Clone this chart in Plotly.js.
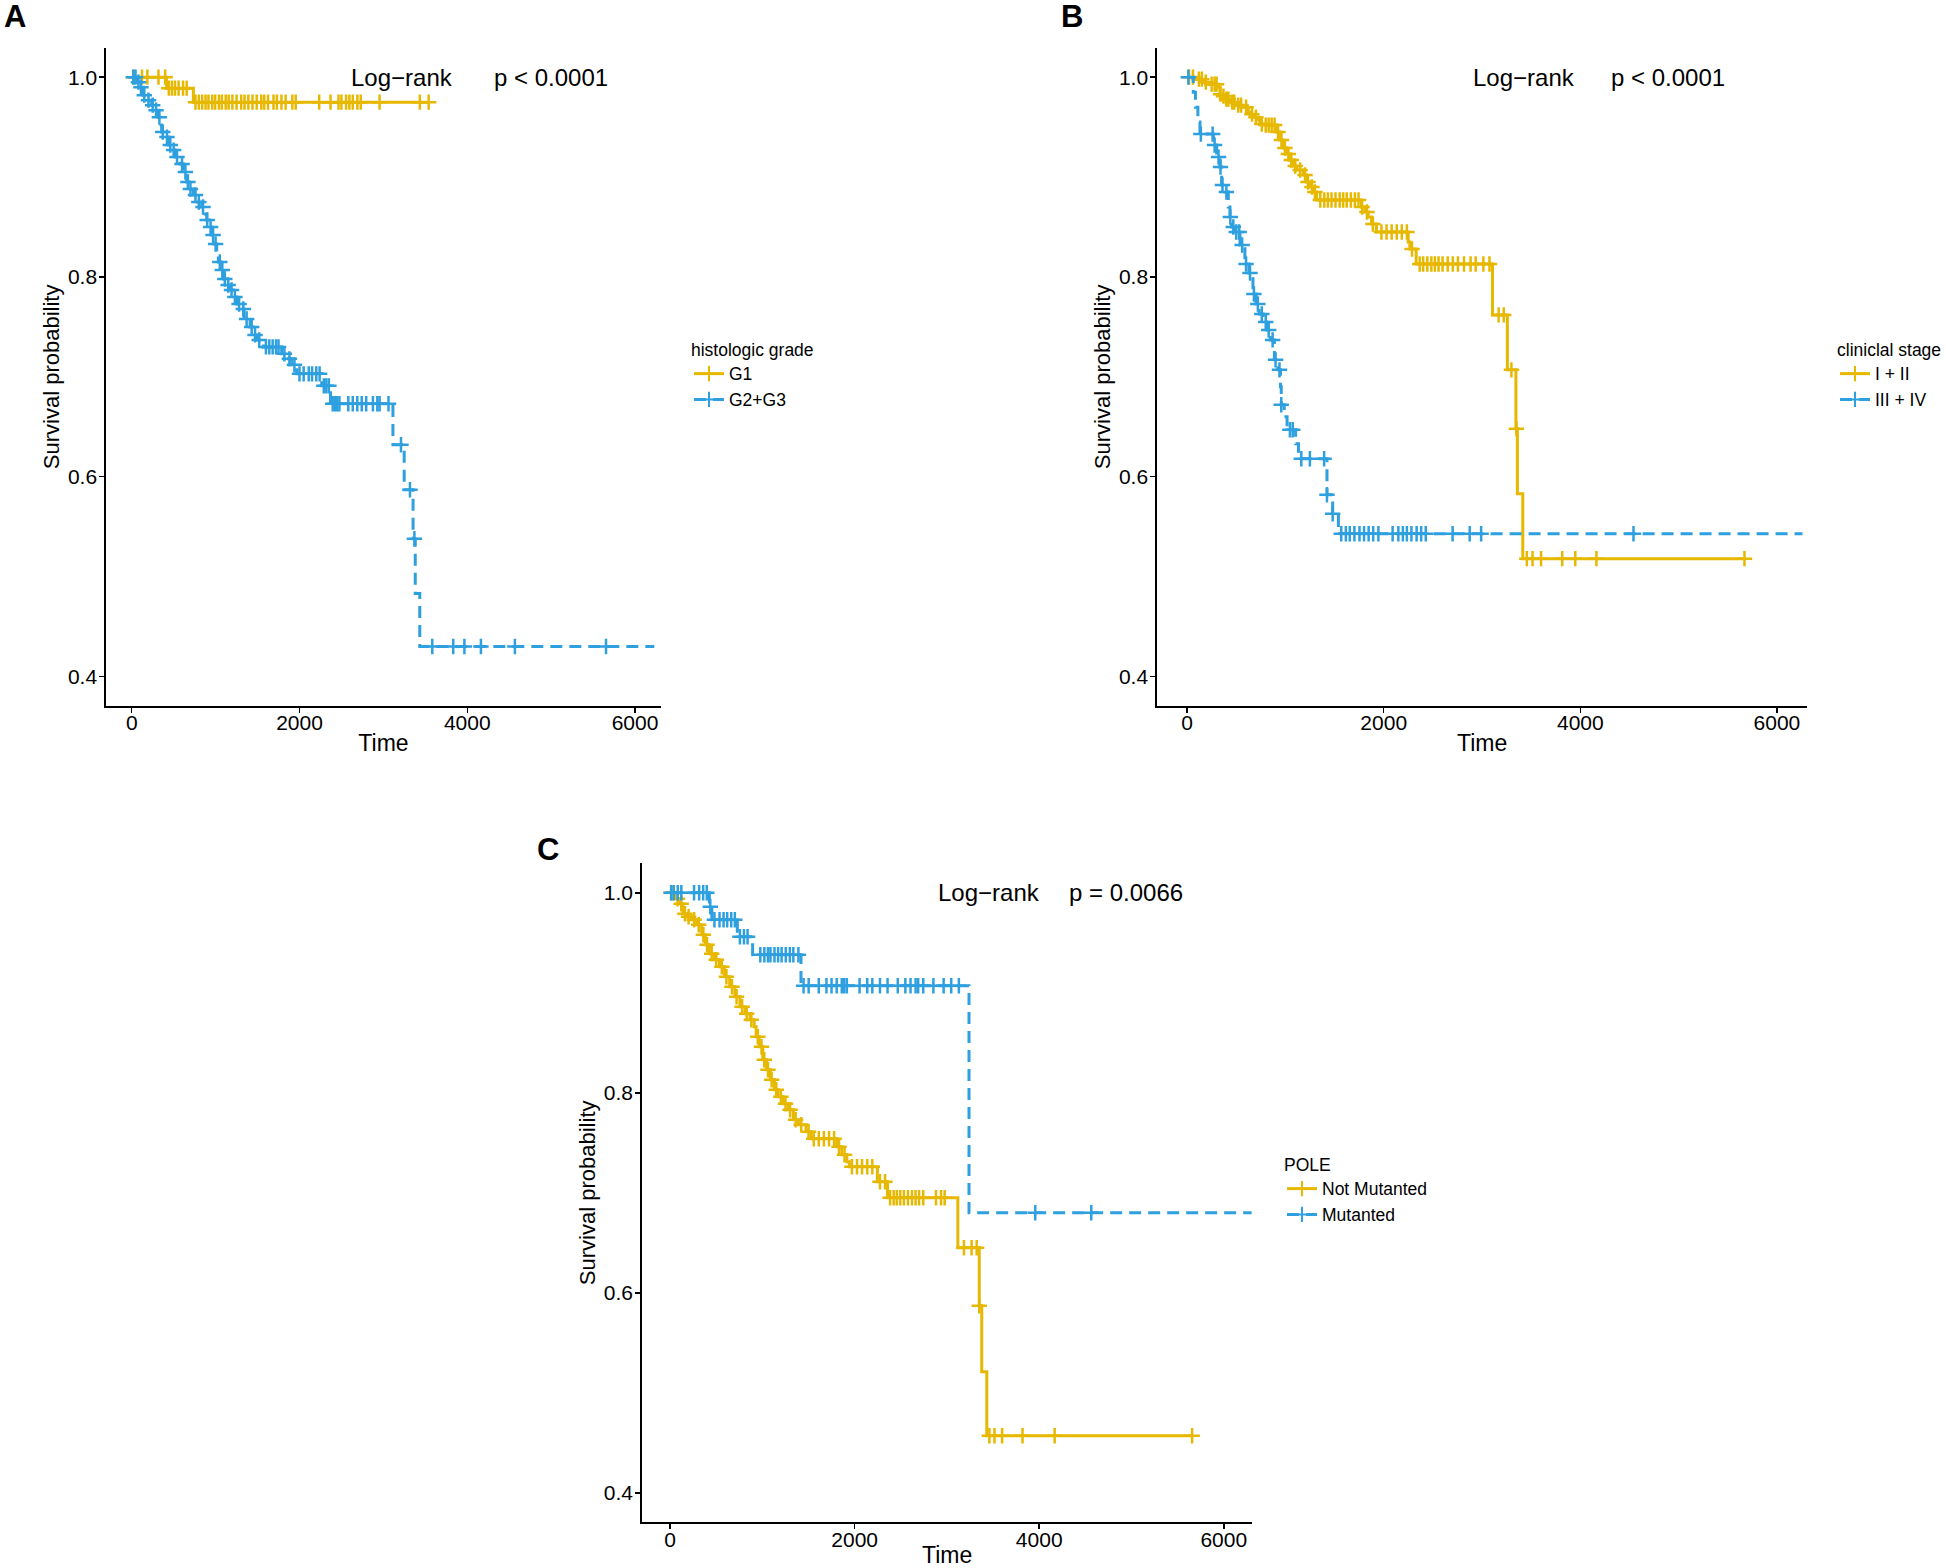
<!DOCTYPE html>
<html>
<head>
<meta charset="utf-8">
<script src="https://cdn.plot.ly/plotly-3.0.1.min.js"></script>
<style>
html, body { margin: 0; padding: 0; background: #ffffff; }
#chart { width: 1946px; height: 1568px; }
</style>
</head>
<body>
<div id="chart"></div>
<script>
// ---------------- Panel A : histologic grade ----------------
const gradeLegendTitle = "histologic grade";
const gradeLabels = ["G1", "G2+G3"];
const gradeG1Times = [0, 415, 735];
const gradeG1Surv = [1.0, 0.989, 0.975];
const gradeG1End = 3540;
const gradeG1Censor = [20, 122, 186, 319, 399, 442, 479, 516, 559, 612, 655, 760, 800, 840, 880, 915, 960, 995, 1040, 1075, 1120, 1155, 1200, 1250, 1305, 1345, 1390, 1440, 1490, 1545, 1580, 1625, 1690, 1730, 1785, 1835, 1915, 1955, 2235, 2370, 2465, 2500, 2555, 2595, 2635, 2690, 2730, 2955, 3435, 3540];

const gradeG23Times = [0, 59, 99, 139, 179, 238, 278, 318, 349, 357, 397, 437, 477, 516, 576, 616, 656, 687, 735, 783, 834, 874, 894, 926, 954, 981, 1013, 1033, 1061, 1093, 1125, 1172, 1212, 1252, 1311, 1339, 1411, 1450, 1490, 1570, 1788, 1848, 1908, 1967, 2265, 2370, 3114, 3248, 3354, 3380, 3434];
const gradeG23Surv = [1.0, 0.995, 0.990, 0.982, 0.977, 0.972, 0.967, 0.960, 0.952, 0.945, 0.940, 0.932, 0.927, 0.920, 0.913, 0.905, 0.895, 0.888, 0.882, 0.875, 0.870, 0.863, 0.857, 0.850, 0.842, 0.833, 0.823, 0.815, 0.807, 0.798, 0.792, 0.787, 0.780, 0.773, 0.768, 0.758, 0.750, 0.742, 0.737, 0.730, 0.723, 0.718, 0.712, 0.703, 0.691, 0.673, 0.632, 0.587, 0.538, 0.483, 0.430];
const gradeG23End = 6230;
const gradeG23Censor = [20, 45, 80, 110, 150, 200, 250, 290, 330, 370, 420, 460, 500, 540, 600, 640, 670, 700, 760, 800, 850, 900, 940, 970, 1000, 1050, 1080, 1110, 1150, 1190, 1230, 1280, 1330, 1370, 1430, 1470, 1520, 1600, 1640, 1680, 1720, 1750, 1820, 1880, 1940, 2000, 2050, 2110, 2150, 2200, 2240, 2290, 2320, 2350, 2396, 2422, 2449, 2476, 2582, 2635, 2689, 2742, 2795, 2875, 2928, 2955, 3061, 3210, 3317, 3370, 3583, 3833, 3966, 4163, 4568, 5654];
const gradePText = ["Log\u2212rank", "p < 0.0001"];

// ---------------- Panel B : clinical stage ----------------
const stageLegendTitle = "cliniclal stage";
const stageLabels = ["I + II", "III + IV"];
const stageEarlyTimes = [0, 97, 165, 216, 318, 334, 351, 385, 436, 504, 572, 622, 639, 690, 724, 741, 792, 910, 944, 978, 1012, 1046, 1080, 1114, 1182, 1215, 1249, 1283, 1317, 1774, 1808, 1842, 1876, 1927, 2249, 2266, 2330, 3107, 3258, 3345, 3360, 3415];
const stageEarlySurv = [1.0, 0.998, 0.995, 0.993, 0.990, 0.983, 0.981, 0.978, 0.975, 0.972, 0.970, 0.965, 0.963, 0.960, 0.957, 0.953, 0.952, 0.945, 0.937, 0.929, 0.923, 0.917, 0.911, 0.907, 0.902, 0.895, 0.890, 0.885, 0.877, 0.870, 0.865, 0.860, 0.853, 0.845, 0.835, 0.828, 0.813, 0.762, 0.707, 0.648, 0.583, 0.518];
const stageEarlyEnd = 5670;
const stageEarlyCensor = [20, 60, 120, 150, 190, 250, 280, 300, 340, 370, 400, 420, 460, 480, 520, 550, 600, 660, 700, 760, 800, 830, 860, 890, 925, 960, 995, 1030, 1060, 1100, 1150, 1200, 1230, 1270, 1300, 1355, 1396, 1432, 1469, 1510, 1552, 1588, 1624, 1666, 1707, 1744, 1780, 1830, 1890, 1977, 2029, 2081, 2133, 2184, 2236, 2288, 2366, 2402, 2444, 2485, 2521, 2558, 2599, 2651, 2703, 2755, 2817, 2884, 2936, 3014, 3076, 3169, 3221, 3299, 3350, 3456, 3514, 3601, 3816, 3949, 4164, 5670];

const stageLateTimes = [0, 63, 85, 110, 131, 267, 301, 334, 351, 385, 419, 436, 453, 487, 538, 588, 629, 670, 702, 733, 774, 810, 847, 888, 924, 950, 958, 988, 1017, 1104, 1133, 1423, 1481, 1539];
const stageLateSurv = [1.0, 0.985, 0.970, 0.955, 0.943, 0.932, 0.920, 0.910, 0.892, 0.885, 0.870, 0.860, 0.850, 0.845, 0.832, 0.813, 0.804, 0.783, 0.773, 0.763, 0.755, 0.747, 0.737, 0.717, 0.707, 0.690, 0.672, 0.660, 0.647, 0.633, 0.618, 0.582, 0.563, 0.543];
const stageLateEnd = 6260;
const stageLateCensor = [13, 140, 260, 280, 320, 340, 360, 400, 440, 470, 500, 530, 560, 600, 640, 680, 720, 760, 800, 830, 870, 900, 940, 958, 1046, 1075, 1162, 1249, 1394, 1423, 1481, 1568, 1615, 1655, 1702, 1754, 1800, 1847, 1893, 1946, 2091, 2149, 2195, 2236, 2282, 2335, 2381, 2428, 2701, 2875, 2991, 4541];
const stagePText = ["Log\u2212rank", "p < 0.0001"];

// ---------------- Panel C : POLE ----------------
const poleLegendTitle = "POLE";
const poleLabels = ["Not Mutanted", "Mutanted"];
const poleWtTimes = [0, 66, 105, 138, 176, 232, 287, 342, 381, 425, 480, 535, 590, 645, 701, 756, 811, 866, 910, 932, 966, 1004, 1043, 1087, 1131, 1170, 1225, 1280, 1335, 1390, 1473, 1528, 1805, 1860, 1915, 1942, 2246, 2356, 3118, 3350, 3377, 3432];
const poleWtSurv = [1.0, 0.994, 0.989, 0.979, 0.976, 0.973, 0.968, 0.958, 0.948, 0.939, 0.933, 0.926, 0.916, 0.906, 0.896, 0.886, 0.879, 0.873, 0.866, 0.856, 0.846, 0.833, 0.823, 0.813, 0.803, 0.796, 0.789, 0.783, 0.773, 0.768, 0.761, 0.754, 0.746, 0.738, 0.731, 0.726, 0.711, 0.695, 0.645, 0.587, 0.521, 0.457];
const poleWtEnd = 5657;
const poleWtCensor = [11, 40, 80, 120, 160, 200, 260, 310, 360, 400, 450, 500, 560, 610, 670, 720, 780, 830, 880, 950, 990, 1020, 1060, 1100, 1150, 1200, 1250, 1300, 1360, 1420, 1500, 1556, 1611, 1666, 1722, 1777, 1830, 1890, 1970, 2025, 2080, 2136, 2191, 2274, 2329, 2384, 2423, 2456, 2494, 2533, 2577, 2621, 2660, 2698, 2743, 2881, 2936, 2975, 3184, 3267, 3322, 3350, 3460, 3515, 3598, 3819, 4167, 5657];

const poleMutTimes = [0, 425, 452, 728, 894, 1418, 3239];
const poleMutSurv = [1.0, 0.986, 0.973, 0.956, 0.938, 0.907, 0.680];
const poleMutEnd = 6302;
const poleMutCensor = [11, 38, 82, 121, 259, 314, 358, 397, 435, 480, 535, 579, 618, 662, 701, 756, 800, 839, 977, 1021, 1060, 1087, 1131, 1170, 1208, 1253, 1297, 1335, 1390, 1446, 1501, 1611, 1694, 1749, 1805, 1860, 1887, 1915, 2053, 2136, 2191, 2274, 2356, 2467, 2549, 2605, 2660, 2688, 2743, 2853, 2964, 3046, 3129, 3957, 4564];
const polePText = ["Log\u2212rank", "p = 0.0066"];

// ---------------- shared ----------------
const panelLetters = ["A", "B", "C"];
const xTickVals = [0, 2000, 4000, 6000];
const yTickVals = [0.4, 0.6, 0.8, 1.0];
const xTitle = "Time";
const yTitle = "Survival probability";
const pTextX = [[3224, 5001], [3424, 4887], [3458, 4935]];
const pTextY = 1.0;

const GOLD = "#E7B800";
const BLUE = "#2E9FDF";
const FONT = "Liberation Sans, Arial, Helvetica, sans-serif";

function survAt(times, surv, t) {
  let v = surv[0];
  for (let i = 0; i < times.length; i++) { if (times[i] <= t) v = surv[i]; }
  return v;
}

function curveTraces(times, surv, end, censor, color, dash, xa, ya, name, legendId) {
  const line = {
    type: "scatter", mode: "lines",
    x: times.concat([end]),
    y: surv.concat([surv[surv.length - 1]]),
    xaxis: xa, yaxis: ya,
    line: { color: color, width: 3, dash: dash, shape: "hv" },
    showlegend: false, hoverinfo: "skip"
  };
  const marks = {
    type: "scatter", mode: "markers",
    x: censor,
    y: censor.map(t => survAt(times, surv, t)),
    xaxis: xa, yaxis: ya,
    marker: { symbol: "cross-thin-open", size: 11, color: color, line: { color: color, width: 2.5 } },
    showlegend: false, hoverinfo: "skip"
  };
  const leg = {
    type: "scatter", mode: "lines+markers",
    x: [null], y: [null],
    xaxis: xa, yaxis: ya,
    name: name,
    legend: legendId,
    line: { color: color, width: 3, dash: dash },
    marker: { symbol: "cross-thin-open", size: 11, color: color, line: { color: color, width: 2 } },
    showlegend: true, hoverinfo: "skip"
  };
  return [line, marks, leg];
}

const DASH = "12px,7px";
let traces = [];
traces = traces.concat(curveTraces(gradeG1Times, gradeG1Surv, gradeG1End, gradeG1Censor, GOLD, "solid", "x", "y", gradeLabels[0], "legend"));
traces = traces.concat(curveTraces(gradeG23Times, gradeG23Surv, gradeG23End, gradeG23Censor, BLUE, DASH, "x", "y", gradeLabels[1], "legend"));
traces = traces.concat(curveTraces(stageEarlyTimes, stageEarlySurv, stageEarlyEnd, stageEarlyCensor, GOLD, "solid", "x2", "y2", stageLabels[0], "legend2"));
traces = traces.concat(curveTraces(stageLateTimes, stageLateSurv, stageLateEnd, stageLateCensor, BLUE, DASH, "x2", "y2", stageLabels[1], "legend2"));
traces = traces.concat(curveTraces(poleWtTimes, poleWtSurv, poleWtEnd, poleWtCensor, GOLD, "solid", "x3", "y3", poleLabels[0], "legend3"));
traces = traces.concat(curveTraces(poleMutTimes, poleMutSurv, poleMutEnd, poleMutCensor, BLUE, DASH, "x3", "y3", poleLabels[1], "legend3"));

const W = 1946, H = 1568;
function px(x) { return x / W; }
function py(y) { return 1 - y / H; }

function xAxis(d0, d1, anchor) {
  return {
    domain: [px(d0), px(d1)], anchor: anchor,
    range: [-303, 6306], tickvals: xTickVals, ticktext: xTickVals.map(String),
    showline: true, linecolor: "#000", linewidth: 2,
    ticks: "outside", ticklen: 5, tickwidth: 1.5, tickcolor: "#000",
    ticklabelstandoff: -8,
    showgrid: false, zeroline: false,
    tickfont: { family: FONT, size: 21, color: "#000" },
    title: { text: xTitle, font: { family: FONT, size: 23, color: "#000" }, standoff: 2 },
    fixedrange: true
  };
}
function yAxis(d0, d1, anchor) {
  return {
    domain: [py(d1), py(d0)], anchor: anchor,
    range: [0.3705, 1.0295], tickvals: yTickVals, ticktext: yTickVals.map(v => v.toFixed(1)),
    showline: true, linecolor: "#000", linewidth: 2,
    ticks: "outside", ticklen: 5, tickwidth: 1.5, tickcolor: "#000",
    ticklabelstandoff: -2,
    showgrid: false, zeroline: false,
    tickfont: { family: FONT, size: 21, color: "#000" },
    title: { text: yTitle, font: { family: FONT, size: 22, color: "#000" }, standoff: 2 },
    fixedrange: true
  };
}
function legendAt(x, y, title) {
  return {
    x: px(x), y: py(y), xref: "paper", yref: "paper",
    xanchor: "left", yanchor: "top",
    bgcolor: "rgba(0,0,0,0)", borderwidth: 0,
    font: { family: FONT, size: 17.5, color: "#000" },
    title: { text: title, font: { family: FONT, size: 17.5, color: "#000" } },
    itemwidth: 30, tracegroupgap: 0, traceorder: "normal"
  };
}

const annotations = [];
const pAxes = [["x", "y"], ["x2", "y2"], ["x3", "y3"]];
const pTexts = [gradePText, stagePText, polePText];
for (let i = 0; i < 3; i++) {
  for (let j = 0; j < 2; j++) {
    annotations.push({
      xref: pAxes[i][0], yref: pAxes[i][1], x: pTextX[i][j], y: pTextY,
      text: pTexts[i][j], showarrow: false, xanchor: "center", yanchor: "middle",
      font: { family: FONT, size: 24, color: "#000" }
    });
  }
}
const letterPos = [[14.5, 17], [1071.5, 16], [548, 849]];
for (let i = 0; i < 3; i++) {
  annotations.push({
    xref: "paper", yref: "paper", x: px(letterPos[i][0]), y: py(letterPos[i][1]),
    text: "<b>" + panelLetters[i] + "</b>", showarrow: false, xanchor: "center", yanchor: "middle",
    font: { family: FONT, size: 31, color: "#000" }
  });
}

const layout = {
  width: W, height: H,
  margin: { l: 0, r: 0, t: 0, b: 0, pad: 0, autoexpand: false },
  paper_bgcolor: "#ffffff", plot_bgcolor: "#ffffff",
  showlegend: true,
  xaxis: xAxis(106.3, 660.7, "y"),
  yaxis: yAxis(47.7, 706, "x"),
  xaxis2: xAxis(1157.3, 1807, "y2"),
  yaxis2: yAxis(47.7, 706, "x2"),
  xaxis3: xAxis(642.2, 1252, "y3"),
  yaxis3: yAxis(863.3, 1522.3, "x3"),
  legend: legendAt(689, 333, gradeLegendTitle),
  legend2: legendAt(1835, 333, stageLegendTitle),
  legend3: legendAt(1282, 1148, poleLegendTitle),
  annotations: annotations,
  font: { family: FONT, color: "#000" }
};

Plotly.newPlot("chart", traces, layout, { staticPlot: true, displayModeBar: false });
</script>
</body>
</html>
